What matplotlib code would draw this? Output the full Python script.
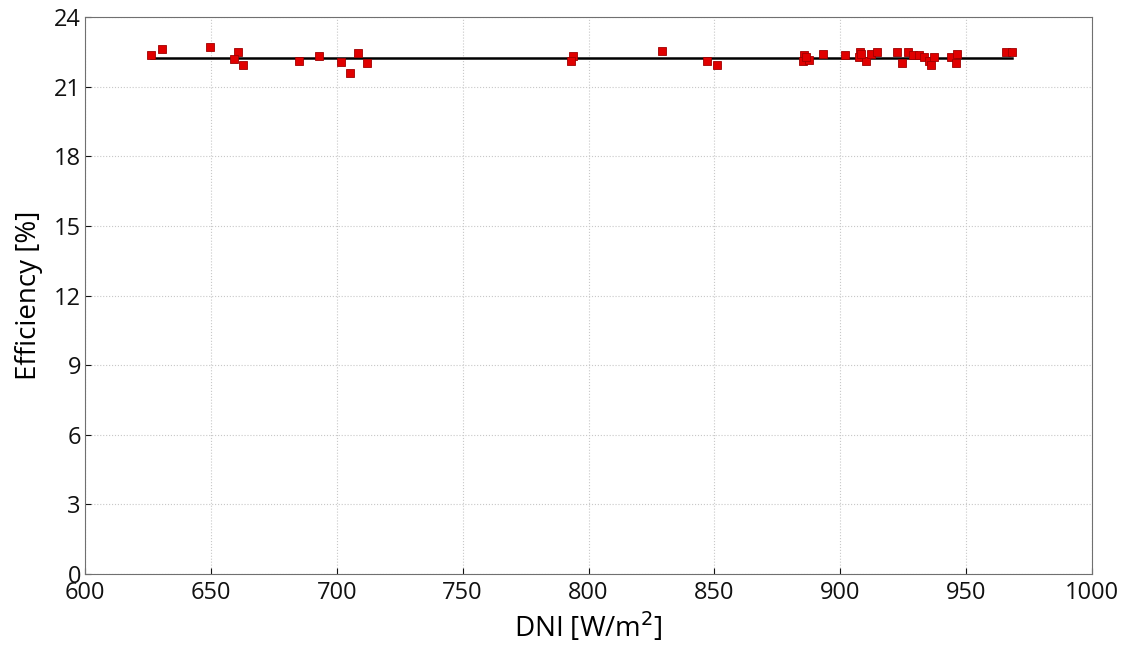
import numpy as np
import matplotlib
matplotlib.use("Agg")
from matplotlib import pyplot as plt

dni = [626.0, 630.7, 649.6, 660.8, 659.1, 662.8, 685.0, 692.9, 701.6, 708.5,
       705.2, 711.8, 793.8, 793.1, 829.0, 847.0, 851.2, 885.7, 885.1, 887.4,
       886.5, 893.0, 902.0, 908.0, 907.5, 910.2, 908.2, 912.2, 914.4, 922.7,
       924.5, 926.7, 929.0, 931.3, 933.3, 935.3, 936.0, 937.3, 943.9, 945.9,
       946.5, 965.7, 968.1]
eff = [22.37, 22.61, 22.70, 22.49, 22.21, 21.93, 22.10, 22.34, 22.06, 22.47,
       21.61, 22.01, 22.33, 22.12, 22.56, 22.12, 21.93, 22.37, 22.10, 22.14,
       22.27, 22.41, 22.36, 22.50, 22.27, 22.10, 22.41, 22.41, 22.51, 22.49,
       22.01, 22.49, 22.37, 22.37, 22.27, 22.10, 21.94, 22.27, 22.27, 22.01,
       22.41, 22.49, 22.49]
fit_eff = 22.24

xticks = list(range(600, 1001, 50))
yticks = list(range(0, 25, 3))

plt.rcParams['font.family'] = ['Open Sans', 'DejaVu Sans']

fig = plt.figure(figsize=(11.34, 6.59), dpi=100)
ax = fig.add_axes([0.075, 0.129, 0.888, 0.845])

ax.plot([min(dni), max(dni)], [fit_eff, fit_eff], color='black', lw=1.8, zorder=2)
ax.plot(dni, eff, 's', color='#e00000', markeredgecolor='#a00000',
        markersize=6, markeredgewidth=0.6, zorder=3)

ax.set_xlim(600, 1000)
ax.set_ylim(0, 24)
ax.set_xticks(xticks)
ax.set_yticks(yticks)
ax.grid(True, linestyle=':', color='#c8c8c8', linewidth=0.8)
ax.tick_params(direction='in', labelsize=17, colors='#111111', length=4)
ax.tick_params(axis='x', pad=5)
ax.tick_params(axis='y', pad=3)
for s in ax.spines.values():
    s.set_color('#707070')
ax.set_xlabel("DNI [W/m$^2$]", fontsize=20, labelpad=4)
ax.set_ylabel("Efficiency [%]", fontsize=20, labelpad=8)

fig.savefig("out.png", dpi=100)
